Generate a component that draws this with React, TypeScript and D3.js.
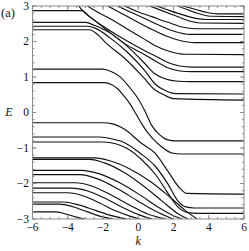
import React from "react";
import * as d3 from "d3";

const W = 249;
const H = 251;

const kTicks = [-6, -4, -2, 0, 2, 4, 6];
const eTicks = [3, 2, 1, 0, -1, -2, -3];
const kMinor = d3.range(-6, 6.001, 0.5);
const eMinor = d3.range(-3, 3.001, 0.2);

// Upper bundle: curves entering from the top or from upper left levels, ending on right levels
const B1 = [[2.53, 3.0], [3.27, 2.9], [3.95, 2.81], [4.52, 2.78], [6, 2.78]];
const B2 = [[2.25, 3.0], [2.93, 2.87], [3.61, 2.76], [4.18, 2.71], [6, 2.7]];
const B3 = [[1.05, 3.0], [1.79, 2.87], [2.53, 2.75], [3.27, 2.65], [3.84, 2.62], [6, 2.62]];
const B4 = [[0.65, 3.0], [1.34, 2.87], [2.08, 2.73], [2.82, 2.59], [3.5, 2.52], [6, 2.51]];
const B5 = [[-0.77, 3.0], [-0.03, 2.84], [0.77, 2.7], [1.68, 2.54], [2.47, 2.41], [3.27, 2.36], [6, 2.36]];
const B6 = [[-1.17, 3.0], [-0.48, 2.84], [0.37, 2.65], [1.22, 2.45], [2.08, 2.28], [2.93, 2.2], [6, 2.2]];
const B7 = [[-1.73, 3.0], [-1.05, 2.82], [-0.2, 2.59], [0.65, 2.37], [1.51, 2.17], [2.36, 2.03], [3.21, 1.97], [6, 1.97]];
const B8 = [[-2.87, 3.0], [-2.47, 2.87], [-1.62, 2.65], [-0.48, 2.31], [0.37, 2.06], [0.94, 1.89], [1.79, 1.72], [2.65, 1.64], [6, 1.63]];
const B9 = [[-3.38, 3.0], [-3.1, 2.84], [-2.47, 2.59], [-1.62, 2.31], [-0.48, 1.97], [0.37, 1.74], [0.94, 1.6], [1.68, 1.41], [2.36, 1.31], [3.04, 1.28], [6, 1.28]];
const B10 = [[-6, 2.87], [-3.21, 2.87], [-2.76, 2.7], [-1.91, 2.37], [-0.77, 1.94], [0.37, 1.63], [0.94, 1.46], [1.68, 1.26], [2.36, 1.17], [3.04, 1.15], [6, 1.15]];
const B11 = [[-6, 2.54], [-2.99, 2.54], [-2.47, 2.45], [-1.62, 2.25], [-0.48, 1.8], [0.37, 1.38], [0.94, 1.09], [1.51, 0.95], [2.25, 0.88], [2.93, 0.87], [6, 0.87]];
const B12 = [[-6, 2.43], [-2.87, 2.43], [-2.42, 2.37], [-1.62, 2.11], [-0.6, 1.69], [0.37, 1.18], [0.94, 0.81], [1.56, 0.61], [2.13, 0.53], [6, 0.52]];
const B13 = [[-6, 2.33], [-2.76, 2.33], [-2.36, 2.22], [-1.73, 1.91], [-0.82, 1.55], [0.31, 0.98], [0.94, 0.64], [1.45, 0.5], [2.02, 0.39], [6, 0.35]];

// Middle curves: levels that dive through the centre
const C5 = [[-6, 1.22], [-2.02, 1.22], [-1.51, 1.15], [-1.05, 1.01], [-0.48, 0.7], [-0.09, 0.45], [0.37, 0.05], [0.77, -0.37], [1.22, -0.63], [1.56, -0.75], [2.02, -0.8], [6, -0.8]];
const C6 = [[-6, 0.84], [-1.91, 0.84], [-1.51, 0.78], [-1.17, 0.67], [-0.82, 0.47], [-0.48, 0.25], [-0.14, -0.03], [0.26, -0.37], [0.77, -0.71], [1.34, -0.97], [1.91, -1.14], [2.47, -1.17], [6, -1.17]];
const C7 = [[-6, -0.29], [-2.02, -0.29], [-1.45, -0.32], [-0.82, -0.46], [0.14, -0.85], [0.94, -1.14], [1.68, -1.65], [2.36, -2.13], [2.76, -2.28], [6, -2.3]];
const C8 = [[-6, -0.69], [-2.19, -0.69], [-1.51, -0.74], [-0.77, -0.85], [0.09, -1.14], [0.94, -1.5], [1.68, -2.01], [2.25, -2.49], [2.7, -2.66], [3.16, -2.69], [6, -2.69]];
const C9 = [[-6, -0.83], [-1.96, -0.83], [-1.28, -0.88], [-0.6, -1.02], [0.2, -1.33], [1.0, -1.76], [1.68, -2.27], [2.25, -2.66], [2.82, -2.82], [3.38, -2.84], [6, -2.84]];

// Lower curves: left levels leaving through the bottom edge
const D1 = [[-6, -1.28], [-2.47, -1.28], [-1.62, -1.36], [-0.48, -1.59], [0.65, -1.93], [1.79, -2.38], [2.65, -2.75], [3.33, -3.0]];
const D2 = [[-6, -1.32], [-2.76, -1.32], [-1.91, -1.42], [-0.77, -1.7], [0.37, -2.1], [1.34, -2.49], [2.19, -2.83], [2.82, -3.0]];
const D3 = [[-6, -1.63], [-3.21, -1.63], [-2.19, -1.73], [-1.05, -1.98], [0.09, -2.32], [1.11, -2.66], [1.91, -2.89], [2.47, -3.0]];
const D4 = [[-6, -1.75], [-3.33, -1.75], [-2.3, -1.87], [-1.17, -2.15], [-0.03, -2.49], [0.94, -2.77], [1.96, -3.0]];
const D5 = [[-6, -1.98], [-3.56, -1.98], [-2.65, -2.07], [-1.62, -2.3], [-0.48, -2.61], [0.54, -2.86], [1.51, -3.0]];
const D6 = [[-6, -2.13], [-3.78, -2.13], [-2.87, -2.21], [-1.91, -2.41], [-0.94, -2.66], [0.09, -2.89], [0.77, -3.0]];
const D7 = [[-6, -2.26], [-4.01, -2.26], [-3.1, -2.35], [-2.19, -2.55], [-1.28, -2.77], [-0.48, -2.92], [0.09, -3.0]];
const D8 = [[-6, -2.52], [-4.24, -2.52], [-3.33, -2.61], [-2.47, -2.75], [-1.62, -2.89], [-0.65, -3.0]];
const D9 = [[-6, -2.58], [-4.47, -2.58], [-3.67, -2.66], [-2.87, -2.8], [-2.19, -2.92], [-1.45, -3.0]];
const D10 = [[-6, -2.8], [-4.69, -2.8], [-4.12, -2.86], [-3.56, -2.94], [-3.04, -3.0]];

const curves = [B1, B2, B3, B4, B5, B6, B7, B8, B9, B10, B11, B12, B13, C5, C6, C7, C8, C9, D1, D2, D3, D4, D5, D6, D7, D8, D9, D10];

const X0 = 32.5, X1 = 244, Y0 = 6, Y1 = 219;

export default function App() {
  const x = d3.scaleLinear().domain([-6, 6]).range([X0, X1]);
  const y = d3.scaleLinear().domain([-3, 3]).range([Y1, Y0]);
  const line = d3
    .line<number[]>()
    .x((d) => x(d[0]))
    .y((d) => y(d[1]))
    .curve(d3.curveMonotoneX);
  const font = "Liberation Serif, Times New Roman, serif";
  const frame = "#8a8a8a";
  const fmt = (v: number) => (v < 0 ? "\u2212" + Math.abs(v) : String(v));
  return (
    <svg width={W} height={H} style={{ position: "absolute", left: 0, top: 0, background: "#fff" }}>
      <defs>
        <clipPath id="plotclip">
          <rect x={X0} y={Y0} width={X1 - X0} height={Y1 - Y0} />
        </clipPath>
      </defs>
      <rect x={0} y={0} width={W} height={H} fill="#fff" />
      <g clipPath="url(#plotclip)">
        {curves.map((c, i) => (
          <path key={i} d={line(c) || ""} fill="none" stroke="#111" strokeWidth={1.15} />
        ))}
      </g>
      <rect x={X0} y={Y0} width={X1 - X0} height={Y1 - Y0} fill="none" stroke={frame} strokeWidth={1} />
      {eMinor.map((v, i) => (
        <g key={"em" + i}>
          <line x1={X0} x2={X0 + 2} y1={y(v)} y2={y(v)} stroke={frame} />
          <line x1={X1} x2={X1 - 2} y1={y(v)} y2={y(v)} stroke={frame} />
        </g>
      ))}
      {eTicks.map((v) => (
        <g key={"e" + v}>
          <line x1={X0} x2={X0 + 4} y1={y(v)} y2={y(v)} stroke={frame} />
          <line x1={X1} x2={X1 - 4} y1={y(v)} y2={y(v)} stroke={frame} />
          <text x={X0 - 3.5} y={y(v) + 3.8} fontSize={11.5} style={{ fontFamily: font }} textAnchor="end" fill="#111">
            {fmt(v)}
          </text>
        </g>
      ))}
      {kMinor.map((v, i) => (
        <g key={"km" + i}>
          <line x1={x(v)} x2={x(v)} y1={Y1} y2={Y1 - 2} stroke={frame} />
          <line x1={x(v)} x2={x(v)} y1={Y0} y2={Y0 + 2} stroke={frame} />
        </g>
      ))}
      {kTicks.map((v) => (
        <g key={"k" + v}>
          <line x1={x(v)} x2={x(v)} y1={Y1} y2={Y1 - 4} stroke={frame} />
          <line x1={x(v)} x2={x(v)} y1={Y0} y2={Y0 + 4} stroke={frame} />
          <text x={x(v)} y={Y1 + 12} fontSize={11.5} style={{ fontFamily: font }} textAnchor="middle" fill="#111">
            {fmt(v)}
          </text>
        </g>
      ))}
      <text x={9} y={116} fontSize={12} style={{ fontFamily: font }} fontStyle="italic" textAnchor="middle" fill="#111">
        E
      </text>
      <text x={x(0)} y={245} fontSize={12} style={{ fontFamily: font }} fontStyle="italic" textAnchor="middle" fill="#111">
        k
      </text>
      <text x={1} y={17} fontSize={12.5} style={{ fontFamily: font }} fill="#111">
        (a)
      </text>
    </svg>
  );
}
